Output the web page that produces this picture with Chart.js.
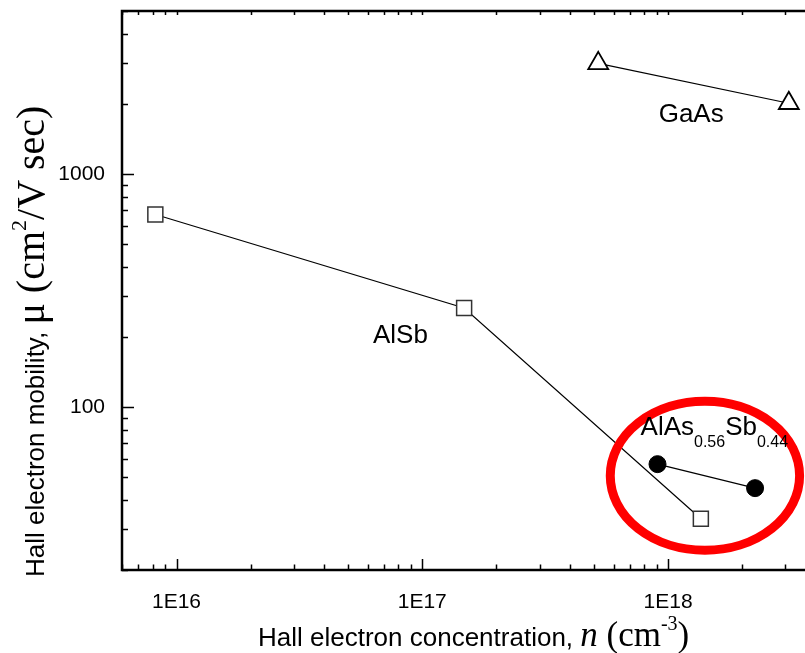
<!DOCTYPE html>
<html>
<head>
<meta charset="utf-8">
<script src="https://cdn.jsdelivr.net/npm/chart.js@4.4.1/dist/chart.umd.min.js"></script>
<style>
  html, body { margin: 0; padding: 0; background: #fff; overflow: hidden; }
  canvas { display: block; }
</style>
</head>
<body>
<canvas id="hallChart" width="830" height="653"></canvas>
<script>
// Hall electron concentration (cm^-3) and mobility (cm2/V sec)
var alsbN = [8.2e15, 1.48e17, 1.36e18];
var alsbMu = [670, 266, 33.2];
var gaasN = [5.2e17, 3.1e18];
var gaasMu = [2980, 2010];
var alasSbN = [9.06e17, 2.26e18];
var alasSbMu = [56.9, 44.9];

var xTicks = [1e16, 1e17, 1e18];
var yTicks = [100, 1000];

var SANS = "'Liberation Sans', Arial, sans-serif";
var SERIF = "'Liberation Serif', 'Times New Roman', serif";

function pts(xs, ys) {
    return xs.map(function (v, i) { return { x: v, y: ys[i] }; });
}

// draws a row of text pieces with different fonts, starting at x,y (baseline)
function drawRuns(ctx, runs, x, y) {
    runs.forEach(function (r) {
        ctx.font = r.font;
        ctx.fillText(r.text, x, y + (r.dy || 0));
        x += ctx.measureText(r.text).width;
    });
    return x;
}

function noPad(s) {
    s.paddingTop = 0; s.paddingBottom = 0; s.paddingLeft = 0; s.paddingRight = 0;
}

// frame, inward ticks, axis titles, ellipse and labels
var decor = {
    id: 'decor',
    afterDatasetsDraw: function (chart) {
        var ctx = chart.ctx, a = chart.chartArea;
        var x = chart.scales.x, y = chart.scales.y;
        ctx.save();
        ctx.strokeStyle = '#000';
        ctx.fillStyle = '#000';

        // red ellipse
        var l = x.getPixelForValue(5.82e17), r = x.getPixelForValue(3.43e18);
        var t = y.getPixelForValue(106), b = y.getPixelForValue(24.3);
        ctx.beginPath();
        ctx.ellipse((l + r) / 2, (t + b) / 2, (r - l) / 2, (b - t) / 2, 0, 0, Math.PI * 2);
        ctx.strokeStyle = '#ff0000';
        ctx.lineWidth = 9;
        ctx.stroke();
        ctx.strokeStyle = '#000';

        // ticks
        ctx.lineWidth = 1.5;
        ctx.beginPath();
        for (var d = 15; d <= 18; d++) {
            for (var m = 1; m <= 9; m++) {
                var v = m * Math.pow(10, d);
                if (v < x.min || v > x.max) continue;
                var px = Math.round(x.getPixelForValue(v)) + 0.5;
                var len = m === 1 ? 11 : 5.5;
                ctx.moveTo(px, a.bottom); ctx.lineTo(px, a.bottom - len);
                ctx.moveTo(px, a.top); ctx.lineTo(px, a.top + 4);
            }
        }
        for (var d2 = 1; d2 <= 3; d2++) {
            for (var m2 = 1; m2 <= 9; m2++) {
                var v2 = m2 * Math.pow(10, d2);
                if (v2 < y.min || v2 > y.max) continue;
                var py = Math.round(y.getPixelForValue(v2)) + 0.5;
                var len2 = m2 === 1 ? 12 : 6;
                ctx.moveTo(a.left, py); ctx.lineTo(a.left + len2, py);
                ctx.moveTo(a.right, py); ctx.lineTo(a.right - 4, py);
            }
        }
        ctx.stroke();

        // frame
        ctx.lineWidth = 2.5;
        ctx.strokeRect(a.left, a.top, a.right - a.left, a.bottom - a.top);

        // point labels
        ctx.textAlign = 'left';
        ctx.textBaseline = 'alphabetic';
        ctx.font = '26px ' + SANS;
        ctx.fillText('GaAs', x.getPixelForValue(9.16e17), y.getPixelForValue(1670));
        ctx.fillText('AlSb', x.getPixelForValue(6.3e16), y.getPixelForValue(189));
        drawRuns(ctx, [
            { text: 'AlAs', font: '26px ' + SANS },
            { text: '0.56', font: '16px ' + SANS, dy: 12 },
            { text: 'Sb', font: '26px ' + SANS },
            { text: '0.44', font: '16px ' + SANS, dy: 12 }
        ], x.getPixelForValue(7.73e17), y.getPixelForValue(75.6));

        // x axis title
        drawRuns(ctx, [
            { text: 'Hall electron concentration, ', font: '26px ' + SANS },
            { text: 'n', font: 'italic 35px ' + SERIF },
            { text: ' (cm', font: '35px ' + SERIF },
            { text: '-3', font: '20px ' + SERIF, dy: -16 },
            { text: ')', font: '35px ' + SERIF }
        ], 258, 646);

        // y axis title (rotated)
        ctx.translate(44, 577);
        ctx.rotate(-Math.PI / 2);
        drawRuns(ctx, [
            { text: 'Hall electron mobility, ', font: '26px ' + SANS },
            { text: '\u03bc (cm', font: '40px ' + SERIF },
            { text: '2', font: '22px ' + SERIF, dy: -18 },
            { text: '/V sec)', font: '40px ' + SERIF }
        ], 0, 0);
        ctx.restore();
    }
};

var tickFont = { family: SANS, size: 21 };

var chart = new Chart(document.getElementById('hallChart').getContext('2d'), {
    type: 'scatter',
    data: {
        datasets: [
            {
                label: 'AlSb',
                data: pts(alsbN, alsbMu),
                showLine: true,
                borderColor: '#000',
                borderWidth: 1.2,
                pointStyle: 'rect',
                pointRadius: 10.6,
                pointBorderColor: '#333',
                pointBorderWidth: 1.5,
                pointBackgroundColor: '#fff'
            },
            {
                label: 'GaAs',
                data: pts(gaasN, gaasMu),
                showLine: true,
                borderColor: '#000',
                borderWidth: 1.2,
                pointStyle: 'triangle',
                pointRadius: 11.5,
                pointBorderColor: '#000',
                pointBorderWidth: 1.8,
                pointBackgroundColor: '#fff'
            },
            {
                label: 'AlAs0.56Sb0.44',
                data: pts(alasSbN, alasSbMu),
                showLine: true,
                borderColor: '#000',
                borderWidth: 1.2,
                pointStyle: 'circle',
                pointRadius: 8.5,
                pointBorderColor: '#000',
                pointBorderWidth: 1,
                pointBackgroundColor: '#000'
            }
        ]
    },
    options: {
        responsive: false,
        animation: false,
        clip: false,
        layout: { autoPadding: false, padding: { top: 11, right: 14, left: 0, bottom: 0 } },
        plugins: {
            legend: { display: false },
            tooltip: { enabled: false }
        },
        scales: {
            x: {
                type: 'logarithmic',
                min: 6e15,
                max: 4e18,
                grid: { display: false },
                border: { display: false },
                afterBuildTicks: function (s) { s.ticks = xTicks.map(function (v) { return { value: v }; }); },
                afterFit: function (s) { s.height = 83; noPad(s); },
                ticks: {
                    font: tickFont,
                    color: '#000',
                    padding: 12,
                    maxRotation: 0,
                    autoSkip: false,
                    callback: function (v) { return '1E' + Math.round(Math.log10(v)); }
                }
            },
            y: {
                type: 'logarithmic',
                min: 20,
                max: 5000,
                grid: { display: false },
                border: { display: false },
                afterBuildTicks: function (s) { s.ticks = yTicks.map(function (v) { return { value: v }; }); },
                afterFit: function (s) { s.width = 122; noPad(s); },
                ticks: {
                    font: tickFont,
                    color: '#000',
                    padding: 9,
                    autoSkip: false,
                    callback: function (v) { return String(v); }
                }
            }
        }
    },
    plugins: [decor]
});
</script>
</body>
</html>
